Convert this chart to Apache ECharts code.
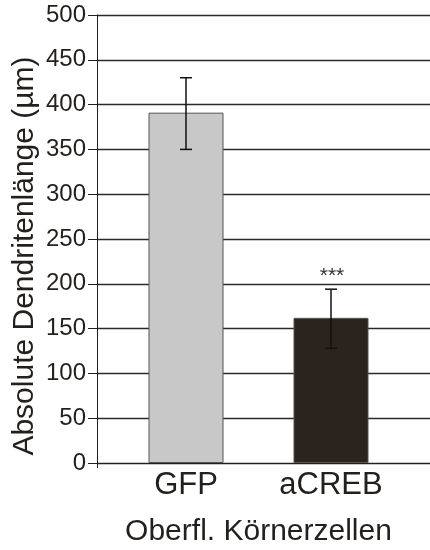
<!DOCTYPE html>
<html>
<head>
<meta charset="utf-8">
<script src="https://cdn.jsdelivr.net/npm/echarts@6/dist/echarts.min.js"></script>
<style>
  html, body { margin: 0; padding: 0; background: #fff; }
  #chart { width: 430px; height: 550px; }
</style>
</head>
<body>
<div id="chart"></div>
<script>
var groups = ['GFP', 'aCREB'];
var meanValues = [391, 162];
var errHigh = [430, 194];
var errLow = [350, 128];
var marks = ['', '***'];
var barColors = ['#c8c8c8', '#2a231e'];
var yTicks = [0, 50, 100, 150, 200, 250, 300, 350, 400, 450, 500];

var chartDom = document.getElementById('chart');
var myChart = echarts.init(chartDom);
var font = '"Liberation Sans", Arial, sans-serif';
var ink = '#231f1c';

var option = {
    animation: false,
    textStyle: { fontFamily: font },
    grid: [
        // frame, y axis and gridlines
        { left: 97, right: 0, top: 15, bottom: 87, outerBoundsMode: 'none' },
        // bars
        { left: 113.5, width: 290, top: 15, bottom: 87, outerBoundsMode: 'none' }
    ],
    xAxis: [{
        gridIndex: 0,
        type: 'value',
        min: 0,
        max: 1,
        interval: 1,
        axisLine: { show: true, lineStyle: { color: ink, width: 1 } },
        axisTick: { show: true, length: 5, lineStyle: { color: ink } },
        axisLabel: { show: false },
        splitLine: { show: false }
    }, {
        gridIndex: 1,
        type: 'category',
        data: groups,
        axisLine: { show: false },
        axisTick: { show: false },
        axisLabel: { fontSize: 31, color: ink, margin: 7, fontFamily: font },
        name: 'Oberfl. Körnerzellen',
        nameLocation: 'middle',
        nameGap: 54,
        nameTextStyle: { fontSize: 30, color: ink, fontFamily: font }
    }],
    yAxis: [{
        gridIndex: 0,
        type: 'value',
        min: yTicks[0],
        max: yTicks[yTicks.length - 1],
        interval: 50,
        axisLine: { show: true, lineStyle: { color: ink, width: 1 } },
        axisTick: { show: true, inside: false, length: 9, lineStyle: { color: ink } },
        axisLabel: { fontSize: 24, color: ink, margin: 11, fontFamily: font },
        splitLine: { show: true, lineStyle: { color: '#2a2a2a', width: 1.4 } },
        name: 'Absolute Dendritenlänge (µm)',
        nameLocation: 'middle',
        nameGap: 57,
        nameMoveOverlap: false,
        nameTextStyle: { fontSize: 30, color: ink, fontFamily: font, padding: [0, 34, 0, 0] }
    }, {
        gridIndex: 1,
        type: 'value',
        min: 0,
        max: 500,
        show: false
    }],
    series: [{
        type: 'bar',
        xAxisIndex: 1,
        yAxisIndex: 1,
        barWidth: 75,
        data: meanValues.map(function (v, i) {
            return {
                value: v,
                itemStyle: { color: barColors[i], borderColor: '#555', borderWidth: 1 }
            };
        }),
        z: 3
    }, {
        type: 'custom',
        xAxisIndex: 1,
        yAxisIndex: 1,
        data: groups.map(function (g, i) {
            return [i, errLow[i], errHigh[i]];
        }),
        renderItem: function (params, api) {
            var idx = api.value(0);
            var lo = api.coord([idx, api.value(1)]);
            var hi = api.coord([idx, api.value(2)]);
            var cap = 6;
            var st = { stroke: '#111', lineWidth: 1.5 };
            var children = [
                { type: 'line', shape: { x1: hi[0], y1: hi[1], x2: lo[0], y2: lo[1] }, style: st },
                { type: 'line', shape: { x1: hi[0] - cap, y1: hi[1], x2: hi[0] + cap, y2: hi[1] }, style: st },
                { type: 'line', shape: { x1: lo[0] - cap, y1: lo[1], x2: lo[0] + cap, y2: lo[1] }, style: st }
            ];
            if (marks[params.dataIndex]) {
                children.push({
                    type: 'text',
                    style: {
                        text: marks[params.dataIndex],
                        x: hi[0] + 1,
                        y: hi[1] - 13,
                        align: 'center',
                        verticalAlign: 'middle',
                        fontSize: 21,
                        fontFamily: font,
                        fill: '#333'
                    }
                });
            }
            return { type: 'group', children: children };
        },
        z: 5
    }]
};

myChart.setOption(option);
</script>
</body>
</html>
